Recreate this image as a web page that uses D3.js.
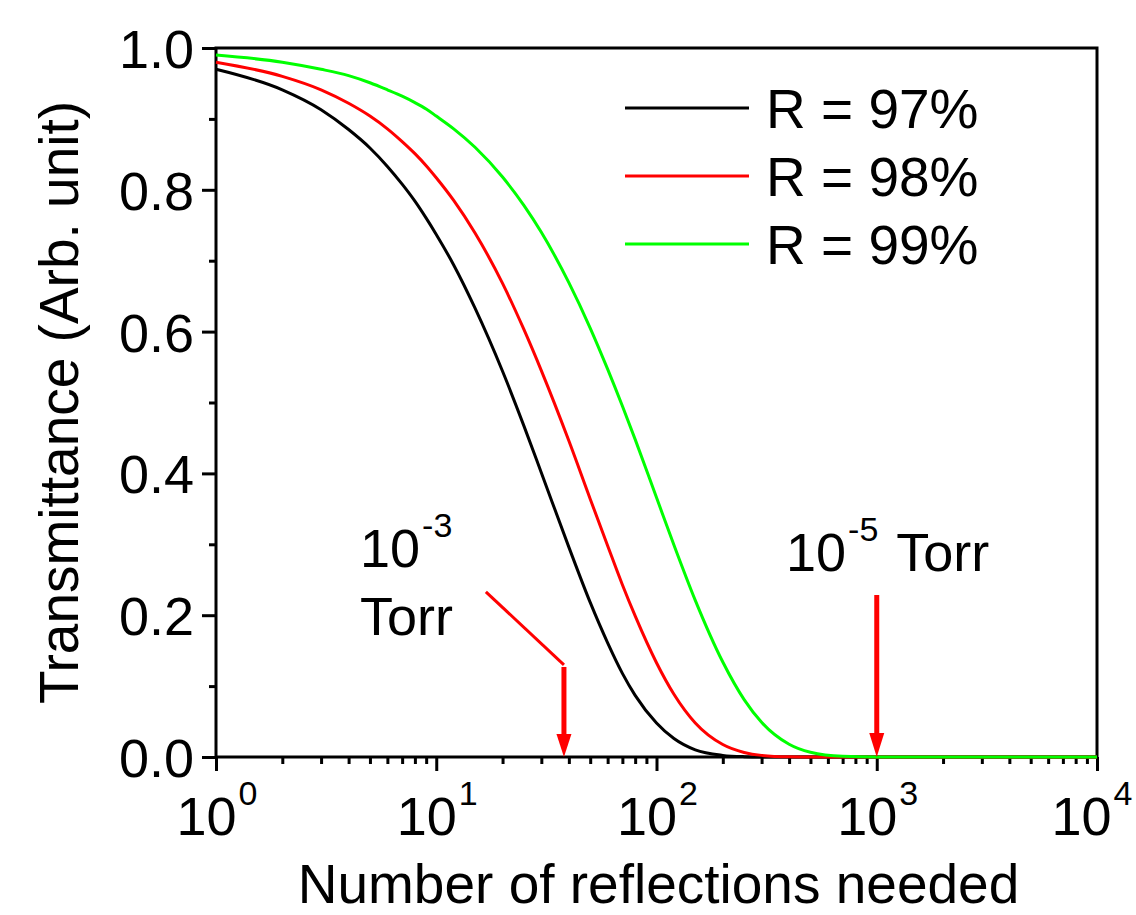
<!DOCTYPE html>
<html>
<head>
<meta charset="utf-8">
<script src="https://cdn.jsdelivr.net/npm/d3@7"></script>
<style>
  html, body { margin: 0; padding: 0; background: #fff; }
  svg text { font-family: "Liberation Sans", Arial, sans-serif; fill: #000; }
</style>
</head>
<body>
<svg id="chart" width="1136" height="915"></svg>
<script>
// Number of reflections (x) at which each curve is sampled
const reflections = [1, 2, 3, 4, 5, 6, 7, 8, 9, 10, 12, 15, 20, 25, 30, 40, 50, 60, 70, 80,
  100, 120, 150, 200, 250, 300, 400, 500, 700, 1000, 2000, 5000, 10000];

// Transmittance for each mirror reflectivity
const t97 = [0.970, 0.941, 0.913, 0.885, 0.859, 0.833, 0.808, 0.784, 0.760, 0.737, 0.694, 0.633,
  0.544, 0.467, 0.401, 0.296, 0.218, 0.161, 0.118, 0.087, 0.048, 0.026, 0.010, 0.0023, 0.0005,
  0.0001, 0, 0, 0, 0, 0, 0, 0];
const t98 = [0.980, 0.960, 0.941, 0.922, 0.904, 0.886, 0.868, 0.851, 0.834, 0.817, 0.785, 0.739,
  0.668, 0.603, 0.545, 0.446, 0.364, 0.298, 0.243, 0.199, 0.133, 0.0885, 0.048, 0.0176, 0.0064,
  0.0023, 0.0003, 0.00004, 0, 0, 0, 0, 0];
const t99 = [0.990, 0.980, 0.970, 0.961, 0.951, 0.941, 0.932, 0.923, 0.914, 0.904, 0.886, 0.860,
  0.818, 0.778, 0.740, 0.669, 0.605, 0.547, 0.495, 0.448, 0.366, 0.299, 0.221, 0.134, 0.081,
  0.049, 0.018, 0.0066, 0.0009, 0.00004, 0, 0, 0];

const seriesNames = ["R = 97%", "R = 98%", "R = 99%"];
const seriesColors = ["#000000", "#ff0000", "#00ff00"];

const xDecades = [0, 1, 2, 3, 4];
const yTicks = [0.0, 0.2, 0.4, 0.6, 0.8, 1.0];

// Pressure markers: reflections reached at each pressure
const markerLow = 38;     // 10^-3 Torr
const markerHigh = 1000;  // 10^-5 Torr

const svg = d3.select("#chart");
const margin = { left: 216, top: 48, right: 1097, bottom: 757 };

const x = d3.scaleLog().domain([1, 10000]).range([margin.left, margin.right]);
const y = d3.scaleLinear().domain([0, 1]).range([margin.bottom, margin.top]);

const FS = 54;

// x axis: decades with 2..9 minor ticks
const xMinor = [];
for (let d = 0; d < 4; d++) for (let k = 2; k <= 9; k++) xMinor.push(k * Math.pow(10, d));

const xAxis = d3.axisBottom(x)
  .tickValues(xDecades.map(d => Math.pow(10, d)))
  .tickSize(14).tickFormat("");
const xAxisMinor = d3.axisBottom(x).tickValues(xMinor).tickSize(7).tickFormat("");

const gx = svg.append("g").attr("transform", `translate(0,${margin.bottom})`).call(xAxis);
const gxm = svg.append("g").attr("transform", `translate(0,${margin.bottom})`).call(xAxisMinor);
[gx, gxm].forEach(g => {
  g.select(".domain").remove();
  g.selectAll(".tick line").attr("stroke", "#000").attr("stroke-width", 3);
});

// decade labels as 10 with superscript exponent; the last one is kept inside the page
xDecades.forEach((d, i) => {
  const shift = i === xDecades.length - 1 ? -5 : 1;
  const t = svg.append("text")
    .attr("x", x(Math.pow(10, d)) + shift)
    .attr("y", 835)
    .attr("text-anchor", "middle")
    .style("font-size", FS + "px");
  t.append("tspan").text("10");
  t.append("tspan").attr("dx", 2).attr("dy", -30).style("font-size", "34px").text(String(d));
});

// y axis with minor ticks at 0.1 steps
const yMinor = [0.1, 0.3, 0.5, 0.7, 0.9];
const yAxis = d3.axisLeft(y).tickValues(yTicks).tickSize(14).tickPadding(8)
  .tickFormat(d3.format(".1f"));
const yAxisMinor = d3.axisLeft(y).tickValues(yMinor).tickSize(7).tickFormat("");

const gy = svg.append("g").attr("transform", `translate(${margin.left},0)`).call(yAxis);
const gym = svg.append("g").attr("transform", `translate(${margin.left},0)`).call(yAxisMinor);
[gy, gym].forEach(g => {
  g.select(".domain").remove();
  g.selectAll(".tick line").attr("stroke", "#000").attr("stroke-width", 3);
});
gy.selectAll(".tick text")
  .attr("font-family", null)
  .attr("font-size", null)
  .style("font-size", FS + "px")
  .attr("dy", "0.36em");

// frame
svg.append("rect")
  .attr("x", margin.left).attr("y", margin.top)
  .attr("width", margin.right - margin.left)
  .attr("height", margin.bottom - margin.top)
  .attr("fill", "none").attr("stroke", "#000").attr("stroke-width", 3);

// axis titles
svg.append("text")
  .attr("x", (margin.left + margin.right) / 2 + 2)
  .attr("y", 903)
  .attr("text-anchor", "middle")
  .style("font-size", "55px")
  .text("Number of reflections needed");

svg.append("text")
  .attr("transform", `translate(78,${(margin.top + margin.bottom) / 2}) rotate(-90)`)
  .attr("text-anchor", "middle")
  .style("font-size", "55px")
  .text("Transmittance (Arb. unit)");

// transmittance curves
const line = d3.line()
  .x((d, i) => x(reflections[i]))
  .y(d => y(d))
  .curve(d3.curveMonotoneX);

[t97, t98, t99].forEach((vals, i) => {
  svg.append("path")
    .datum(vals)
    .attr("d", line)
    .attr("fill", "none")
    .attr("stroke", seriesColors[i])
    .attr("stroke-width", 3)
    .attr("stroke-linejoin", "round");
});

// legend
const legendRows = [108, 176, 244];
seriesNames.forEach((name, i) => {
  svg.append("line")
    .attr("x1", 625).attr("x2", 749)
    .attr("y1", legendRows[i]).attr("y2", legendRows[i])
    .attr("stroke", seriesColors[i]).attr("stroke-width", 3);
  svg.append("text")
    .attr("x", 766).attr("y", legendRows[i] + 20)
    .style("font-size", "55px")
    .text(name);
});

// pressure annotations
function arrowDown(xv, yTop, shaftW, headW, headH) {
  const px = x(xv), top = y(yTop), tip = y(0);
  svg.append("line")
    .attr("x1", px).attr("x2", px)
    .attr("y1", top).attr("y2", tip - headH + 2)
    .attr("stroke", "#ff0000").attr("stroke-width", shaftW);
  svg.append("path")
    .attr("d", `M${px - headW / 2},${tip - headH} L${px + headW / 2},${tip - headH} L${px},${tip} Z`)
    .attr("fill", "#ff0000");
}

// 10^-3 Torr: leader line then arrow
svg.append("line")
  .attr("x1", x(16.8)).attr("y1", y(0.233))
  .attr("x2", x(markerLow)).attr("y2", y(0.13))
  .attr("stroke", "#ff0000").attr("stroke-width", 3);
arrowDown(markerLow, 0.127, 5, 15, 23);

// 10^-5 Torr arrow
arrowDown(markerHigh, 0.2285, 5, 15, 24);

const lab1 = svg.append("text").attr("x", 360).attr("y", 567).style("font-size", FS + "px");
lab1.append("tspan").text("10");
lab1.append("tspan").attr("dx", 2).attr("dy", -30).style("font-size", "34px").text("-3");
svg.append("text").attr("x", 360).attr("y", 635).style("font-size", FS + "px").text("Torr");

const lab2 = svg.append("text").attr("x", 786).attr("y", 571).style("font-size", FS + "px");
lab2.append("tspan").text("10");
lab2.append("tspan").attr("dx", 2).attr("dy", -30).style("font-size", "34px").text("-5");
lab2.append("tspan").attr("dx", 4).attr("dy", 30).style("font-size", FS + "px").text(" Torr");
</script>
</body>
</html>
